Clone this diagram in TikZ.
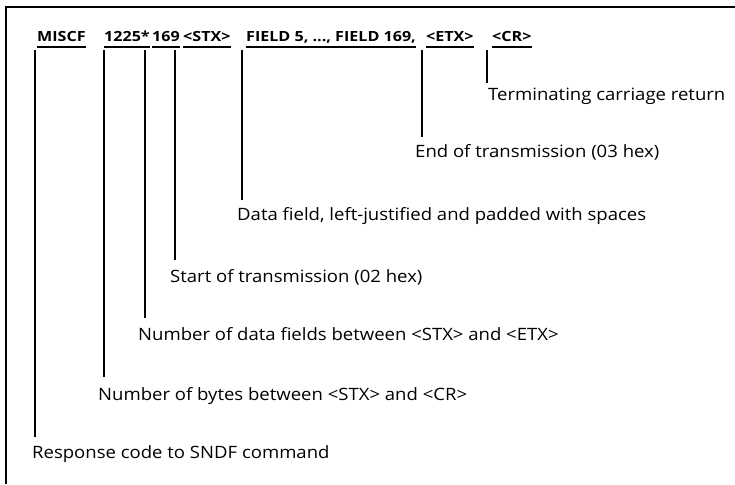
\documentclass[tikz,border=0pt]{standalone}
\usepackage{fontspec}
\setmainfont{Open Sans}
\newfontfamily\lblfont[FakeStretch=1.09]{Open Sans}
\newfontfamily\hdrfont[FakeStretch=1.15]{Open Sans}
\begin{document}
\begin{tikzpicture}[x=1pt,y=-1pt,
  lbl/.style={anchor=base west,inner sep=0pt,font=\lblfont\fontsize{17}{20}\selectfont},
  hdr/.style={anchor=base west,inner sep=0pt,font=\hdrfont\fontsize{14}{17}\selectfont\bfseries},
  ul/.style={line width=1.1pt},
  lead/.style={line width=1.6pt},
  frame/.style={line width=2pt}]
\useasboundingbox (0,0) rectangle (735,484);
\draw[frame] (6,484) -- (6,7) -- (735,7);
% header
\node[hdr] (h1) at (37,42) {MISCF};
\node[hdr] (h2) at (104,42) {1225*};
\node[hdr] (h3) at (152,42) {169};
\node[hdr] (h4) at (183,42) {<STX>};
\node[hdr] (h5) at (246,42) {FIELD 5, ..., FIELD 169,};
\node[hdr] (h6) at (426,42) {<ETX>};
\node[hdr] (h7) at (492,42) {<CR>};
\foreach \n in {h1,h2,h3,h4,h5,h6,h7}
  \draw[ul] (\n.west |- 0,47) -- (\n.east |- 0,47);
% labels
\node[lbl] (l7) at (488,101) {Terminating carriage return};
\node[lbl] (l6) at (415,157) {End of transmission (03 hex)};
\node[lbl] (l5) at (237,220) {Data field, left-justified and padded with spaces};
\node[lbl] (l4) at (170,282) {Start of transmission (02 hex)};
\node[lbl] (l3) at (138,340) {Number of data fields between <STX> and <ETX>};
\node[lbl] (l2) at (98,400) {Number of bytes between <STX> and <CR>};
\node[lbl] (l1) at (32,458) {Response code to SNDF command};
% leaders
\coordinate (t7) at (487,50); \coordinate (e7) at (487,83);
\coordinate (t6) at (422,50); \coordinate (e6) at (422,137);
\coordinate (t5) at (242,50); \coordinate (e5) at (242,200);
\coordinate (t4) at (175,50); \coordinate (e4) at (175,260);
\coordinate (t3) at (145,50); \coordinate (e3) at (145,318);
\coordinate (t2) at (104,50); \coordinate (e2) at (104,377);
\coordinate (t1) at (35,50);  \coordinate (e1) at (35,437);
\foreach \i in {1,...,7} \draw[lead] (t\i) -- (e\i);
\end{tikzpicture}
\end{document}
